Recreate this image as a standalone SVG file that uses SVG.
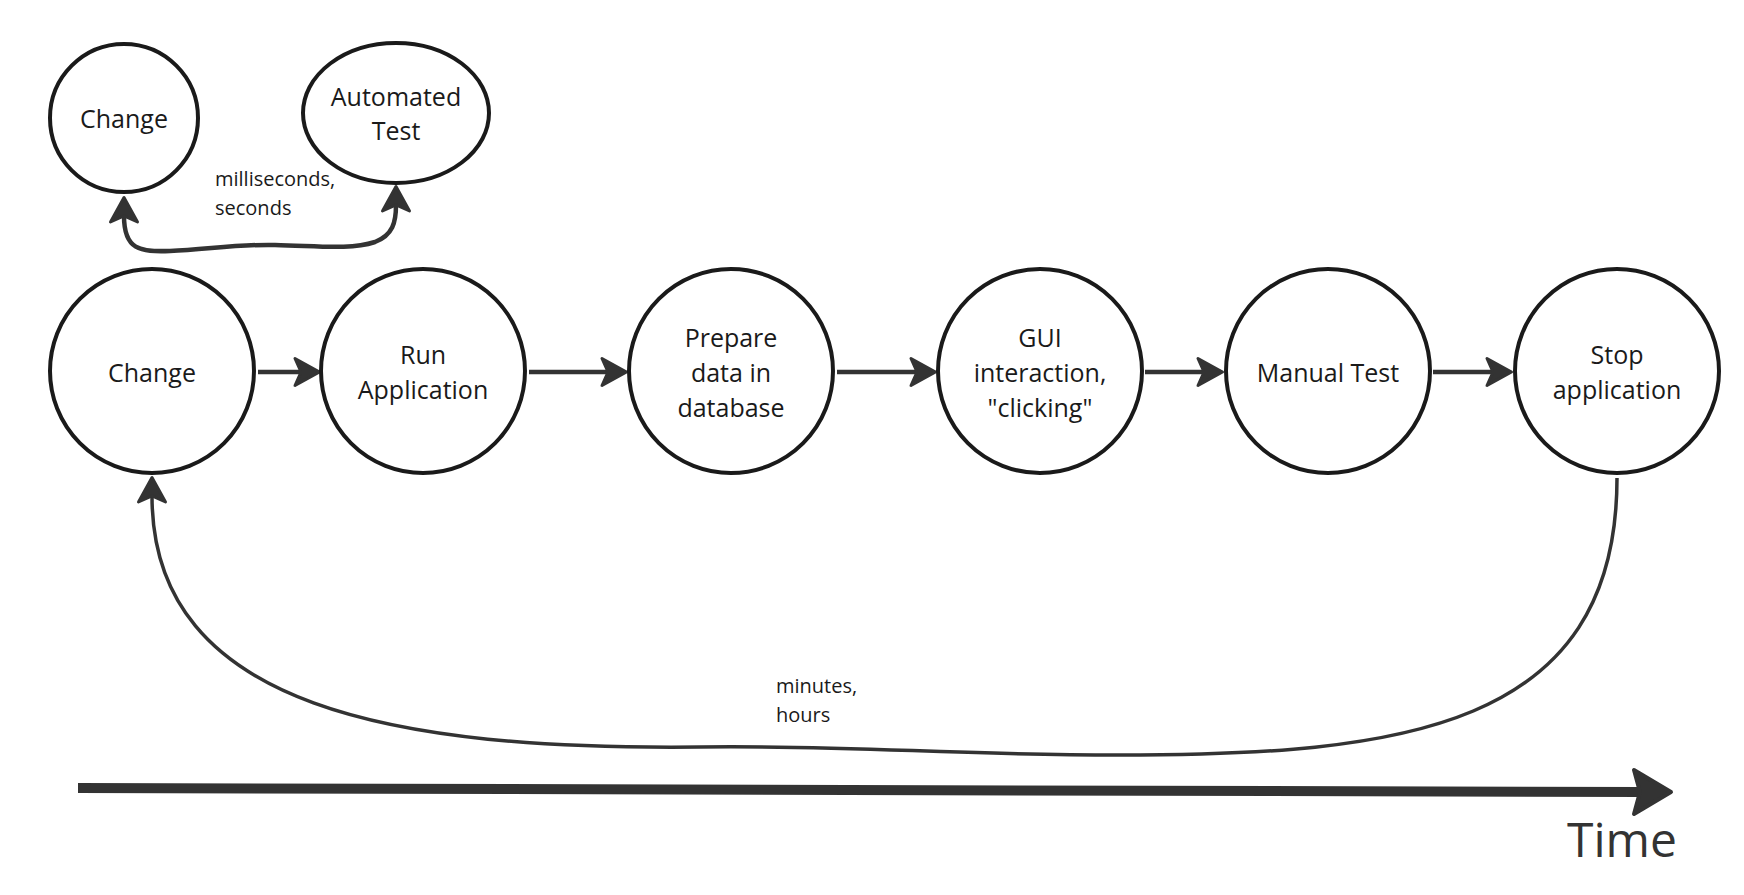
<svg xmlns="http://www.w3.org/2000/svg" width="1744" height="895" viewBox="0 0 1744 895">
  <defs>
    <style>
      .node { fill: #ffffff; stroke: #1a1a1a; stroke-width: 4; }
      .lbl { font-family: "Open Sans", "Noto Sans", "Liberation Sans", sans-serif; font-size: 25px; fill: #1a1a1a; text-anchor: middle; }
      .note { font-family: "Open Sans", "Noto Sans", "Liberation Sans", sans-serif; font-size: 20px; fill: #1a1a1a; }
      .time { font-family: "Open Sans", "Noto Sans", "Liberation Sans", sans-serif; font-size: 48px; fill: #333333; }
      .conn { fill: none; stroke: #333333; stroke-width: 4.5; }
      .thin { fill: none; stroke: #333333; stroke-width: 3.5; }
    </style>
    <marker id="ah" markerUnits="userSpaceOnUse" viewBox="-10 -18 32 36" refX="0" refY="0" markerWidth="32" markerHeight="36" orient="auto-start-reverse">
      <path d="M18.5,0 L-6,-13.5 L0,0 L-6,13.5 Z" fill="#333333" stroke="#333333" stroke-width="3" stroke-linejoin="round"/>
    </marker>
  </defs>

  <g id="connectors">
    <path id="c-small" class="conn" d="M124,216 C124,250 140,252 170,251 C205,250 235,244 275,245 C320,246 350,250 375,242 C393,235 396,222 396,205" marker-start="url(#ah)" marker-end="url(#ah)"/>
    <path id="c1" class="conn" d="M258,372 L301,372" marker-end="url(#ah)"/>
    <path id="c2" class="conn" d="M529,372 L608,372" marker-end="url(#ah)"/>
    <path id="c3" class="conn" d="M837,372 L917,372" marker-end="url(#ah)"/>
    <path id="c4" class="conn" d="M1145,372 L1204,372" marker-end="url(#ah)"/>
    <path id="c5" class="conn" d="M1433,372 L1493,372" marker-end="url(#ah)"/>
    <path id="c-loop" class="thin" d="M1617,478 C1617,730 1400,755 1118,755 C950,755 850,745 700,747 C400,750 152,710 152,496" marker-end="url(#ah)"/>
  </g>

  <g id="label-fast">
    <text class="note" x="215" y="186">milliseconds,</text>
    <text class="note" x="215" y="215">seconds</text>
  </g>
  <g id="label-slow">
    <text class="note" x="776" y="693">minutes,</text>
    <text class="note" x="776" y="722">hours</text>
  </g>

  <g id="n-change-small">
    <circle class="node" cx="124" cy="118" r="74"/>
    <text class="lbl" x="124" y="128">Change</text>
  </g>
  <g id="n-automated">
    <ellipse class="node" cx="396" cy="113" rx="93" ry="70"/>
    <text class="lbl" x="396" y="106">Automated</text>
    <text class="lbl" x="396" y="140">Test</text>
  </g>

  <g id="n-change">
    <circle class="node" cx="152" cy="371" r="102"/>
    <text class="lbl" x="152" y="382">Change</text>
  </g>
  <g id="n-run">
    <circle class="node" cx="423" cy="371" r="102"/>
    <text class="lbl" x="423" y="364">Run</text>
    <text class="lbl" x="423" y="399">Application</text>
  </g>
  <g id="n-prepare">
    <circle class="node" cx="731" cy="371" r="102"/>
    <text class="lbl" x="731" y="347">Prepare</text>
    <text class="lbl" x="731" y="382">data in</text>
    <text class="lbl" x="731" y="417">database</text>
  </g>
  <g id="n-gui">
    <circle class="node" cx="1040" cy="371" r="102"/>
    <text class="lbl" x="1040" y="347">GUI</text>
    <text class="lbl" x="1040" y="382">interaction,</text>
    <text class="lbl" x="1040" y="417">"clicking"</text>
  </g>
  <g id="n-manual">
    <circle class="node" cx="1328" cy="371" r="102"/>
    <text class="lbl" x="1328" y="382">Manual Test</text>
  </g>
  <g id="n-stop">
    <circle class="node" cx="1617" cy="371" r="102"/>
    <text class="lbl" x="1617" y="364">Stop</text>
    <text class="lbl" x="1617" y="399">application</text>
  </g>

  <g id="time-axis">
    <path d="M78,788 L1642,792" fill="none" stroke="#333333" stroke-width="10"/>
    <path d="M1671,792 L1634,770 L1640,792 L1634,814 Z" fill="#333333" stroke="#333333" stroke-width="4" stroke-linejoin="round"/>
    <text class="time" x="1567" y="857">Time</text>
  </g>
</svg>
